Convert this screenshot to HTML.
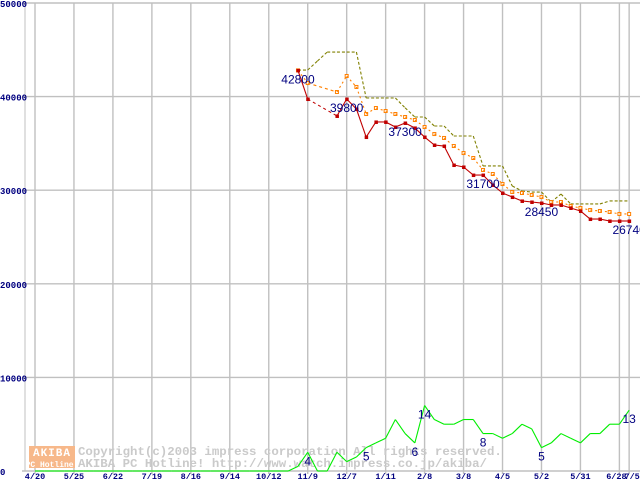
<!DOCTYPE html>
<html><head><meta charset="utf-8"><style>
body{margin:0;background:#fff;}
svg{display:block;}
</style></head><body>
<svg id="chart" width="640" height="480" viewBox="0 0 640 480" xmlns="http://www.w3.org/2000/svg" font-family="Liberation Mono, monospace">
<g id="grid"></g>
<g id="wm">
  <rect x="29" y="446" width="46" height="22" fill="#f7b88a"/>
  <text x="52" y="456" font-size="11" font-weight="bold" fill="#fff" text-anchor="middle" letter-spacing="1">AKIBA</text>
  <text x="52" y="467" font-size="8" font-weight="bold" fill="#fff" text-anchor="middle">PC Hotline!</text>
  <text x="78" y="455" font-size="12.4" font-weight="bold" fill="#cacaca">Copyright(c)2003 impress corporation All rights reserved.</text>
  <text x="78" y="467" font-size="12.4" font-weight="bold" fill="#cacaca">AKIBA PC Hotline!  http://www.watch.impress.co.jp/akiba/</text>
</g>
<g id="series"></g>
<g id="labels"></g>
</svg>
<script>
const weekTicks=[0,4,8,12,16,20,24,28,32,36,40,44,48,52,56,60,61];
const tickLabels=["4/20","5/25","6/22","7/19","8/16","9/14","10/12","11/9","12/7","1/11","2/8","3/8","4/5","5/2","5/31","6/28","7/5"];
const yTicks=[0,10000,20000,30000,40000,50000];
const startWeek=27;
const minPrice=[42800,39740,null,null,37930,39740,38680,35680,37290,37290,36750,37180,36650,35680,34830,34720,32690,32480,31620,31620,30560,29700,29270,28850,28740,28630,28420,28420,28100,27780,26920,26920,26710,26710,26710];
const avgPrice=[42800,41450,null,null,40490,42200,41030,38140,38780,38460,38140,37820,37500,36750,36000,35580,34720,33970,33440,32160,31730,30660,29810,29700,29490,29270,28740,28740,28310,28100,27880,27780,27670,27460,27460];
const maxPrice=[42840,42840,43800,44760,44760,44760,44760,39850,39850,39850,39850,38800,37820,37820,36860,36860,35790,35790,35790,32590,32590,32590,30450,29910,29800,29800,28740,29590,28530,28530,28530,28530,28850,28850,28850];
const countVals=[0,0,0,0,0,0,0,0,0,0,0,0,0,0,0,0,0,0,0,0,0,0,0,0,0,0,0,500,2000,0,0,2000,1000,1500,2500,3000,3500,5500,4000,3000,7000,5500,5000,5000,5500,5500,4000,4000,3500,4000,5000,4500,2500,3000,4000,3500,3000,4000,4000,5000,5000,6500];
const priceLabelWeeks=[27,32,38,46,52,61];
const priceLabelText=["42800","39800","37300","31700","28450","26740"];
const countLabelWeeks=[28,34,39,40,46,52,61];
const countLabelText=["4","5","6","14","8","5","13"];

const NS="http://www.w3.org/2000/svg";
const X=w=>35+w*9.74;
const Y=v=>471-v*0.00936;
function mk(tag,attrs,parent){const e=document.createElementNS(NS,tag);for(const k in attrs)e.setAttribute(k,attrs[k]);parent.appendChild(e);return e;}
const grid=document.getElementById('grid'),ser=document.getElementById('series'),lab=document.getElementById('labels');
let ax=mk('line',{x1:25,y1:3,x2:25,y2:471,stroke:'#c0c0c0'},grid);


yTicks.forEach(v=>{
  const l=mk('line',{x1:22,y1:Y(v),x2:640,y2:Y(v),stroke:'#c0c0c0','stroke-width':1.4},grid);
  
  
  const t=mk('text',{x:0,y:Y(v)+4,'font-size':9,'font-weight':'bold',fill:'#000080'},grid);
  
  
  t.textContent=v;
});
weekTicks.forEach((w,i)=>{
  const l=mk('line',{x1:X(w),y1:3,x2:X(w),y2:474,stroke:'#c0c0c0','stroke-width':1.4},grid);
  
  
  const t=mk('text',{x:X(w)+(i==15?-3:i==16?3:0),y:479,'font-size':8.5,'font-weight':'bold',fill:'#000080','text-anchor':'middle'},grid);
  
  
  t.textContent=tickLabels[i];
});
function segs(arr,off,color,dash,name,marker){
  let prev=null;
  for(let i=0;i<arr.length;i++){
    if(arr[i]==null)continue;
    if(prev!=null){
      const gap=i-prev>1;
      const l=mk('line',{x1:X(prev+off),y1:Y(arr[prev]),x2:X(i+off),y2:Y(arr[i]),stroke:color,'stroke-width':1.1},ser);
      if(dash||gap)l.setAttribute('stroke-dasharray',gap?'3,3':dash);
      
      
    }
    prev=i;
    if(marker){
      const r=mk('rect',marker=='fill'?{x:X(i+off)-1.5,y:Y(arr[i])-1.5,width:3.5,height:3.5,fill:color}:{x:X(i+off)-1.5,y:Y(arr[i])-1.5,width:3,height:3,fill:'#fff',stroke:color,'stroke-width':1},ser);
      
      
    }
  }
}
segs(countVals,0,'#00ee00',null,'count',null);
segs(maxPrice,startWeek,'#808000','3,2','max-price',null);
segs(avgPrice,startWeek,'#ff8000','2,3','avg-price','hollow');
segs(minPrice,startWeek,'#c00000',null,'min-price','fill');
priceLabelWeeks.forEach((w,i)=>{
  const t=mk('text',{x:X(w),y:Y(minPrice[w-startWeek])+13,'font-size':12,fill:'#000080','text-anchor':'middle','font-family':'Liberation Sans, sans-serif'},lab);
  
  
  t.textContent=priceLabelText[i];
});
countLabelWeeks.forEach((w,i)=>{
  const t=mk('text',{x:X(w),y:Y(countVals[w])+13,'font-size':12,fill:'#000080','text-anchor':'middle','font-family':'Liberation Sans, sans-serif'},lab);
  
  
  t.textContent=countLabelText[i];
});
</script>
</body></html>
